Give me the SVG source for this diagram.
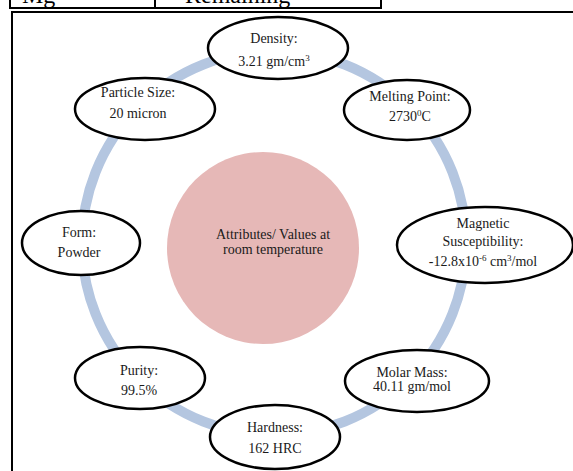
<svg xmlns="http://www.w3.org/2000/svg" width="573" height="471" viewBox="0 0 573 471">
<style>
.t{font-family:"Liberation Serif","Times New Roman",serif;font-size:14px;fill:#1a1a1a;text-anchor:middle}
.n{fill:#fff;stroke:#000;stroke-width:2.5}
.sup{font-size:9px}
</style>
<rect width="573" height="471" fill="#fff"/>
<g id="table">
<path d="M10 -2 V8 H381 V-2 M155 -2 V8" fill="none" stroke="#000" stroke-width="2"/>
<text x="22" y="3" font-family="Liberation Serif,serif" font-size="24" fill="#000">Mg</text>
<text x="185" y="3" font-family="Liberation Serif,serif" font-size="24" fill="#000">Remaining</text>
</g>
<path d="M12 471 V12 H573" fill="none" stroke="#000" stroke-width="2"/>
<g id="connectors">
<circle cx="274" cy="243" r="192" fill="none" stroke="#b4c6e0" stroke-width="10"/>
</g>
<g id="center">
<circle cx="263" cy="248" r="96" fill="#e6b8b7"/>
<text class="t" x="273" y="239">Attributes/ Values at</text>
<text class="t" x="273" y="254">room temperature</text>
</g>
<g id="density">
<ellipse class="n" cx="278" cy="48" rx="70" ry="31"/>
<text class="t" x="274" y="43">Density:</text>
<text class="t" x="274" y="66">3.21 gm/cm<tspan class="sup" baseline-shift="super">3</tspan></text>
</g>
<g id="melting">
<ellipse class="n" cx="407" cy="110" rx="63" ry="30"/>
<text class="t" x="410" y="101">Melting Point:</text>
<text class="t" x="410" y="121">2730<tspan class="sup" baseline-shift="super">0</tspan>C</text>
</g>
<g id="magnetic">
<ellipse class="n" cx="485" cy="245" rx="88" ry="38"/>
<text class="t" x="483" y="228">Magnetic</text>
<text class="t" x="483" y="246">Susceptibility:</text>
<text class="t" x="483" y="266">-12.8x10<tspan class="sup" baseline-shift="super">-6</tspan> cm<tspan class="sup" baseline-shift="super">3</tspan>/mol</text>
</g>
<g id="molar">
<ellipse class="n" cx="417" cy="381" rx="72" ry="31"/>
<text class="t" x="412" y="377">Molar Mass:</text>
<text class="t" x="412" y="391">40.11 gm/mol</text>
</g>
<g id="hardness">
<ellipse class="n" cx="275" cy="437" rx="65" ry="32"/>
<text class="t" x="275" y="432">Hardness:</text>
<text class="t" x="275" y="453">162 HRC</text>
</g>
<g id="purity">
<ellipse class="n" cx="140" cy="378" rx="65" ry="31"/>
<text class="t" x="139" y="375">Purity:</text>
<text class="t" x="139" y="395">99.5%</text>
</g>
<g id="form">
<ellipse class="n" cx="81" cy="243" rx="59" ry="32"/>
<text class="t" x="79" y="237">Form:</text>
<text class="t" x="79" y="257">Powder</text>
</g>
<g id="particle">
<ellipse class="n" cx="145" cy="109" rx="70" ry="31"/>
<text class="t" x="138" y="97">Particle Size:</text>
<text class="t" x="138" y="118">20 micron</text>
</g>
</svg>
